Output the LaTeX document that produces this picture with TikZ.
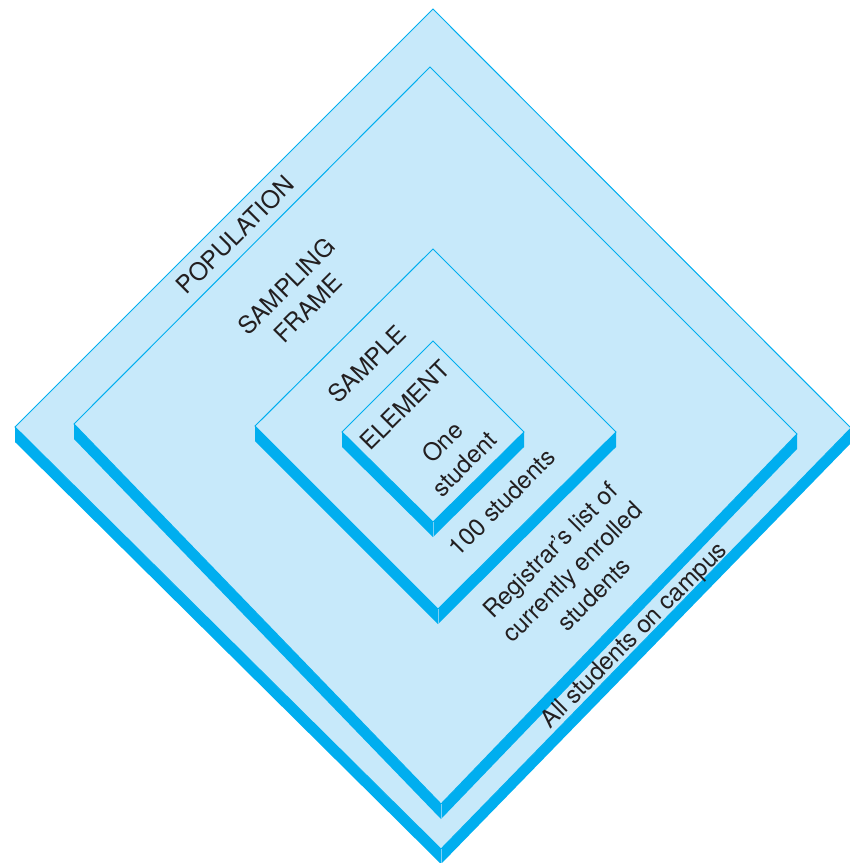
\documentclass[tikz,border=0pt]{standalone}
\usepackage{fontspec}
\setmainfont{TeX Gyre Heros}
\usetikzlibrary{calc}
\definecolor{facecol}{HTML}{C7E9FA}
\definecolor{sidecol}{HTML}{00AEEF}
\definecolor{creasecol}{HTML}{7CD0F5}
\definecolor{txtcol}{HTML}{231F20}
\tikzset{
  face/.style={fill=facecol, draw=sidecol, line width=1pt, line join=miter},
  side/.style={fill=sidecol},
  crease/.style={draw=creasecol, line width=0.7pt},
  lbl/.style={text=txtcol, font=\fontsize{24.3}{31}\selectfont, rotate=45, align=center, inner sep=0pt}
}
\newcommand\myslab[2]{%
  \fill[side] (#1L) -- (#1B) -- (#1R) -- ($(#1R)+(0,#2)$) -- ($(#1B)+(0,#2)$) -- ($(#1L)+(0,#2)$) -- cycle;
  \filldraw[face] (#1L) -- (#1T) -- (#1R) -- (#1B) -- cycle;
  \draw[crease] (#1B) -- ($(#1B)+(0,#2)$);
}
\begin{document}
\begin{tikzpicture}[x=1pt,y=-1pt]
\useasboundingbox (0,0) rectangle (850,863);
% population
\coordinate (pL) at (15,427);
\coordinate (pT) at (433,9);
\coordinate (pR) at (851,428);
\coordinate (pB) at (441,849);
% sampling frame
\coordinate (fL) at (74,424);
\coordinate (fT) at (430,67);
\coordinate (fR) at (797,434);
\coordinate (fB) at (441,804);
% sample
\coordinate (sL) at (255,426);
\coordinate (sT) at (433,249);
\coordinate (sR) at (616,432);
\coordinate (sB) at (438,609);
% element
\coordinate (eL) at (342,432);
\coordinate (eT) at (433,341);
\coordinate (eR) at (524,432);
\coordinate (eB) at (433,522);
\myslab{p}{15}
\myslab{f}{15}
\myslab{s}{15}
\myslab{e}{15}
\node[lbl] (population) at (235,235) {POPULATION};
\node[lbl] (frame) at (297,297) {SAMPLING\\FRAME};
\node[lbl] (sample) at (367,364) {SAMPLE};
\node[lbl] (element) at (405,405) {ELEMENT};
\node[lbl] (one) at (453,453) {One\\student};
\node[lbl] (hundred) at (502,502) {100 students};
\node[lbl] (registrar) at (572,572) {Registrar’s list of\\currently enrolled\\students};
\node[lbl] (all) at (635,636) {All students on campus};
\end{tikzpicture}
\end{document}
